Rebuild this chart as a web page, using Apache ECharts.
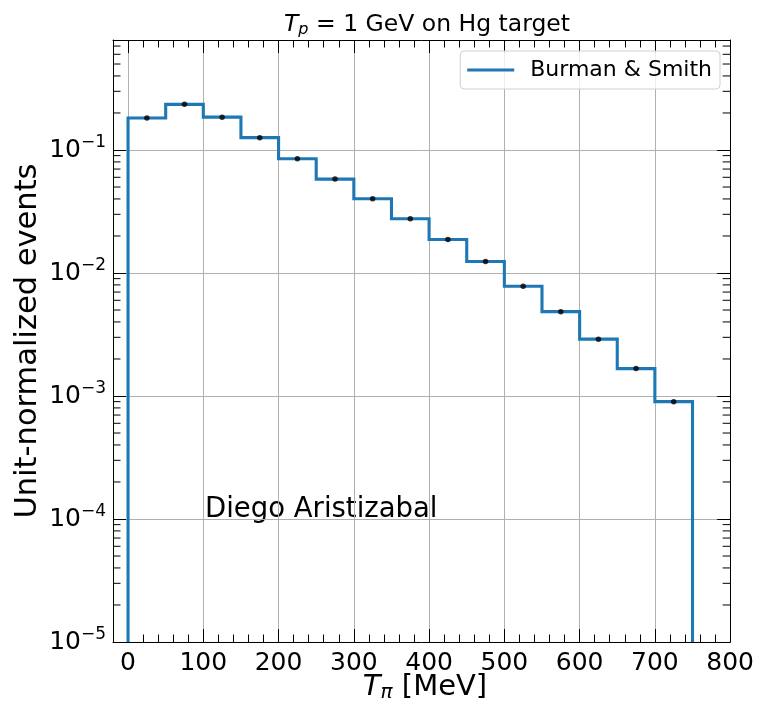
<!DOCTYPE html>
<html><head><meta charset="utf-8">
<script src="https://cdn.jsdelivr.net/npm/echarts@6/dist/echarts.min.js"></script>
<style>html,body{margin:0;padding:0;background:#fff}#c{width:757px;height:706px}</style>
</head><body><div id="c"></div>
<script>
const binEdges = [0,50,100,150,200,250,300,350,400,450,500,550,600,650,700,750];
const binValues = [0.182,0.235,0.185,0.126,0.085,0.058,0.0402,0.0276,0.0187,0.0124,0.0078,0.00485,0.0029,0.00167,0.0009];
const xMajorTicks = [0,100,200,300,400,500,600,700,800];
const xTickLabels = ['0','100','200','300','400','500','600','700','800'];
const yMajorTicks = [1e-5,1e-4,1e-3,1e-2,1e-1];
const yTickExponents = ['−5','−4','−3','−2','−1'];
const seriesName = 'Burman & Smith';
const X_MIN = -20, X_MAX = 800, Y_MIN = 1e-5, Y_MAX = 0.784;

const yMinorTicks = [];
for (let k = -5; k <= -1; k++) for (let m = 2; m <= 9; m++) { const v = m * Math.pow(10, k); if (v < Y_MAX) yMinorTicks.push(v); }
const xMinorTicks = [];
for (let v = X_MIN; v <= X_MAX; v += 20) xMinorTicks.push(v);

const stepData = [[binEdges[0], Y_MIN]];
binValues.forEach((v, i) => { stepData.push([binEdges[i], v]); stepData.push([binEdges[i + 1], v]); });
stepData.push([binEdges[binEdges.length - 1], Y_MIN]);
const centerData = binValues.map((v, i) => [(binEdges[i] + binEdges[i + 1]) / 2, v]);

const FONT = 'DejaVu Sans';
const chart = echarts.init(document.getElementById('c'), null, {renderer: 'canvas'});

function yLabel(v) {
  for (let i = 0; i < yMajorTicks.length; i++) {
    if (Math.abs(Math.log10(v) - Math.log10(yMajorTicks[i])) < 0.01) return '{b|10}{s|' + yTickExponents[i] + '}';
  }
  return '';
}
const gridStyle = {color: '#b0b0b0', width: 1};
const baseX = {type: 'value', min: X_MIN, max: X_MAX, gridIndex: 0};

chart.setOption({
  animation: false,
  backgroundColor: '#fff',
  textStyle: {fontFamily: FONT},
  grid: {left: 113, right: 26, top: 40, bottom: 64, containLabel: false},
  title: {
    text: '{it|T}{sub|p}{n| = 1 GeV on Hg target}',
    left: 422, top: 7, textAlign: 'center',
    textStyle: {fontWeight: 'normal', rich: {
      it: {fontFamily: FONT, fontSize: 23.5, fontStyle: 'italic', fontWeight: 'normal', color: '#000'},
      sub: {fontFamily: FONT, fontSize: 16, fontStyle: 'italic', fontWeight: 'normal', color: '#000', padding: [10, 0, 0, 0]},
      n: {fontFamily: FONT, fontSize: 23.5, fontWeight: 'normal', color: '#000'}
    }}
  },
  legend: {
    data: [{name: seriesName, icon: 'rect'}], right: 37, top: 51,
    padding: [8, 8, 8, 7], borderColor: '#d0d0d0', borderWidth: 1, borderRadius: 4,
    backgroundColor: 'rgba(255,255,255,0.8)',
    itemWidth: 47, itemHeight: 3,
    itemStyle: {color: '#1f77b4'},
    textStyle: {fontFamily: FONT, fontSize: 22, color: '#000', padding: [0, 0, 0, 11]}
  },
  xAxis: [
    Object.assign({}, baseX, {position: 'bottom',
      axisLine: {show: true, onZero: false, lineStyle: {color: '#000', width: 1}},
      axisTick: {show: true, inside: true, length: 13, customValues: xMajorTicks, lineStyle: {color: '#000'}},
      axisLabel: {show: true, customValues: xMajorTicks, fontFamily: FONT, fontSize: 25, color: '#000', margin: 9,
        formatter: v => xTickLabels[xMajorTicks.indexOf(v)] || ''},
      splitLine: {show: true, lineStyle: gridStyle}
    }),
    Object.assign({}, baseX, {position: 'bottom',
      axisLine: {show: false, onZero: false},
      axisTick: {show: true, inside: true, length: 7.5, customValues: xMinorTicks, lineStyle: {color: '#000'}},
      axisLabel: {show: false}, splitLine: {show: false}
    }),
    Object.assign({}, baseX, {position: 'top',
      axisLine: {show: true, onZero: false, lineStyle: {color: '#000', width: 1}},
      axisTick: {show: true, inside: true, length: 13, customValues: xMajorTicks, lineStyle: {color: '#000'}},
      axisLabel: {show: false}, splitLine: {show: false}
    }),
    Object.assign({}, baseX, {position: 'top',
      axisLine: {show: false, onZero: false},
      axisTick: {show: true, inside: true, length: 7.5, customValues: xMinorTicks, lineStyle: {color: '#000'}},
      axisLabel: {show: false}, splitLine: {show: false}
    })
  ],
  yAxis: [
    {type: 'log', logBase: 10, min: Y_MIN, max: Y_MAX, position: 'left',
      axisLine: {show: true, onZero: false, lineStyle: {color: '#000', width: 1}},
      axisTick: {show: true, inside: true, length: 13, lineStyle: {color: '#000'}},
      axisLabel: {show: true, margin: 7, formatter: yLabel, rich: {
        b: {fontFamily: FONT, fontSize: 25, color: '#000'},
        s: {fontFamily: FONT, fontSize: 17, color: '#000', padding: [0, 0, 14, 0]}
      }},
      splitLine: {show: true, lineStyle: gridStyle}
    },
    {type: 'log', logBase: 10, min: Y_MIN, max: Y_MAX, position: 'right',
      axisLine: {show: true, onZero: false, lineStyle: {color: '#000', width: 1}},
      axisTick: {show: true, inside: true, length: 13, lineStyle: {color: '#000'}},
      axisLabel: {show: false}, splitLine: {show: false}
    }
  ],
  graphic: [
    {type: 'text', left: 205, top: 496, style: {text: 'Diego Aristizabal', fontFamily: FONT, fontSize: 27.5, fill: '#000'}},
    {type: 'text', x: 28, y: 341, rotation: Math.PI / 2,
      style: {text: 'Unit-normalized events', fontFamily: FONT, fontSize: 30.5, fill: '#000', align: 'center', verticalAlign: 'middle'}},
    {type: 'text', x: 425, y: 687,
      style: {text: '{it|T}{sub|π}{n| [MeV]}', align: 'center', verticalAlign: 'middle', rich: {
        it: {fontFamily: FONT, fontSize: 29, fontStyle: 'italic', fill: '#000', color: '#000'},
        sub: {fontFamily: FONT, fontSize: 20, fontStyle: 'italic', fill: '#000', color: '#000', padding: [12, 0, 0, 0]},
        n: {fontFamily: FONT, fontSize: 29, fill: '#000', color: '#000'}
      }}}
  ],
  series: [
    {name: seriesName, type: 'line', xAxisIndex: 0, yAxisIndex: 0, data: stepData,
      symbol: 'none', showSymbol: false, clip: true, z: 3,
      lineStyle: {color: '#1f77b4', width: 3.1, join: 'miter'}, itemStyle: {color: '#1f77b4'}},
    {name: 'centers', type: 'scatter', xAxisIndex: 0, yAxisIndex: 0, data: centerData,
      symbol: 'circle', symbolSize: 5.5, itemStyle: {color: '#000'}, z: 4, silent: true},
    {name: 'yminor', type: 'custom', xAxisIndex: 0, yAxisIndex: 0, silent: true, z: 2,
      data: yMinorTicks.map(v => [0, v]),
      renderItem: function (params, api) {
        const y = api.coord([0, api.value(1)])[1];
        const cs = params.coordSys;
        return {type: 'group', children: [
          {type: 'line', shape: {x1: cs.x, y1: y, x2: cs.x + 7.5, y2: y}, style: {stroke: '#000', lineWidth: 1}},
          {type: 'line', shape: {x1: cs.x + cs.width, y1: y, x2: cs.x + cs.width - 7.5, y2: y}, style: {stroke: '#000', lineWidth: 1}}
        ]};
      }}
  ]
});
</script></body></html>
